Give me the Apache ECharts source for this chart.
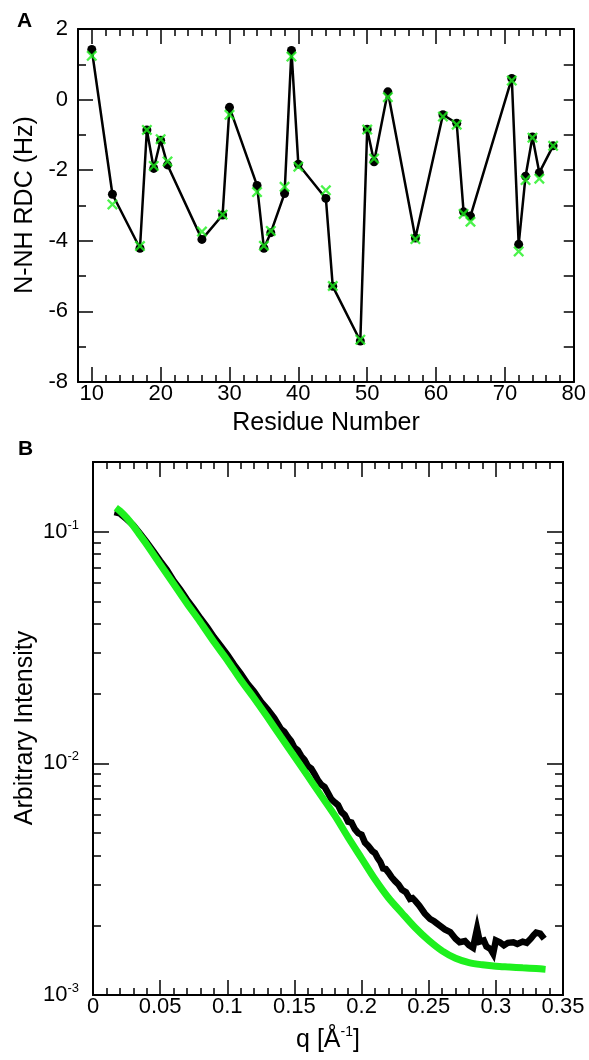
<!DOCTYPE html>
<html><head><meta charset="utf-8">
<script src="https://cdn.jsdelivr.net/npm/echarts@6/dist/echarts.min.js"></script>
<style>html,body{margin:0;padding:0;background:#fff}#c{width:589px;height:1060px}</style>
</head><body><div id="c"></div>
<script>
// ---------- Panel A data ----------
const residues = [10,13,17,18,19,20,21,26,29,30,34,35,36,38,39,40,44,45,49,50,51,53,57,61,63,64,65,71,72,73,74,75,77];
const rdcExp  = [1.42,-2.68,-4.21,-0.86,-1.95,-1.15,-1.85,-3.96,-3.27,-0.22,-2.43,-4.21,-3.77,-2.66,1.39,-1.83,-2.80,-5.29,-6.84,-0.84,-1.76,0.22,-3.92,-0.43,-0.67,-3.18,-3.30,0.60,-4.10,-2.17,-1.06,-2.07,-1.31];
const rdcCalc = [1.24,-2.97,-4.15,-0.86,-1.88,-1.12,-1.75,-3.74,-3.26,-0.43,-2.62,-4.14,-3.72,-2.47,1.22,-1.90,-2.57,-5.28,-6.80,-0.85,-1.67,0.07,-3.95,-0.48,-0.71,-3.24,-3.46,0.54,-4.30,-2.28,-1.08,-2.24,-1.31];

// ---------- Panel B data ----------
const qExp = [0.016,0.020,0.025,0.030,0.035,0.040,0.045,0.050,0.055,0.060,0.065,0.070,0.075,0.080,0.085,0.090,0.095,0.100,0.105,0.110,0.115,0.120,0.125,0.130,0.135,0.140,0.1425,0.145,0.1475,0.150,0.1525,0.155,0.1575,0.160,0.1625,0.165,0.1675,0.170,0.1725,0.175,0.1775,0.180,0.1825,0.185,0.1875,0.190,0.1925,0.195,0.1975,0.200,0.2025,0.205,0.208,0.210,0.212,0.214,0.216,0.218,0.220,0.2225,0.225,0.2275,0.230,0.233,0.236,0.238,0.240,0.243,0.247,0.251,0.254,0.258,0.262,0.266,0.270,0.273,0.277,0.280,0.283,0.286,0.288,0.291,0.293,0.296,0.298,0.300,0.303,0.306,0.309,0.313,0.316,0.320,0.323,0.326,0.328,0.330,0.333,0.336];
const iExp = [0.1216,0.120,0.1135,0.1067,0.0982,0.0902,0.0822,0.0748,0.0684,0.0614,0.0562,0.0509,0.0466,0.0423,0.0387,0.0351,0.0322,0.0295,0.0267,0.0244,0.0221,0.0204,0.0185,0.0171,0.0157,0.01406,0.01370,0.01303,0.01250,0.01169,0.01140,0.01076,0.01035,0.00973,0.00950,0.00899,0.00845,0.00809,0.00790,0.00745,0.00700,0.00679,0.00660,0.00617,0.00598,0.00560,0.00555,0.00520,0.00500,0.00492,0.00455,0.00440,0.00418,0.00410,0.00390,0.00375,0.00352,0.00350,0.00338,0.00322,0.00310,0.00300,0.00285,0.00278,0.00260,0.00262,0.00255,0.00243,0.00225,0.00213,0.00208,0.00200,0.00192,0.00187,0.00175,0.00169,0.00171,0.00164,0.00160,0.00193,0.00170,0.00172,0.00162,0.00158,0.00151,0.00172,0.00169,0.00164,0.00168,0.00169,0.00166,0.00170,0.00168,0.00175,0.00181,0.00186,0.00184,0.00175];
const qCalc = [0.017,0.020,0.025,0.030,0.035,0.040,0.050,0.060,0.070,0.080,0.090,0.100,0.110,0.120,0.130,0.140,0.150,0.160,0.170,0.180,0.190,0.200,0.210,0.220,0.230,0.240,0.250,0.260,0.270,0.280,0.290,0.300,0.310,0.320,0.330,0.337];
const iCalc = [0.127,0.123,0.115,0.106,0.0966,0.0881,0.0724,0.0596,0.0490,0.0407,0.0335,0.0279,0.0229,0.0191,0.0158,0.0130,0.0107,0.00881,0.00724,0.00596,0.00479,0.00389,0.00316,0.00263,0.00226,0.00195,0.00172,0.00155,0.00144,0.00138,0.00135,0.00133,0.00132,0.00131,0.00130,0.00129];
const yMinorTicksB = [0.002,0.003,0.004,0.005,0.006,0.007,0.008,0.009,0.02,0.03,0.04,0.05,0.06,0.07,0.08,0.09,0.2];

const FONT = '"Liberation Sans", Arial, sans-serif';
const GREEN = '#1ef01e';
const BLACK = '#000';
const yMinB = 0.001, yMaxB = 0.2;

function ls(w) { return {color: BLACK, width: w}; }
function frameAxis(base, o) {
  return Object.assign({
    axisLine: {show: true, onZero: false, lineStyle: ls(2)},
    splitLine: {show: false},
    axisTick: {show: true, inside: true, length: o.major, lineStyle: ls(1.5)},
    minorTick: o.minorSplit ? {show: true, splitNumber: o.minorSplit, length: o.minor, lineStyle: ls(1.5)} : {show: false},
    axisLabel: o.label || {show: true, formatter: function () { return ''; }}
  }, base, o.extra || {});
}

const xAxes = [
  frameAxis({gridIndex: 0, type: 'value', position: 'bottom', min: 8, max: 80, splitNumber: 7},
    {major: 15, minor: 7, minorSplit: 5,
     label: {show: true, margin: 1, color: BLACK, fontSize: 22, fontFamily: FONT,
             formatter: function (v) { return Math.abs(v % 10) < 1e-9 ? String(v) : ''; }}}),
  frameAxis({gridIndex: 0, type: 'value', position: 'top', min: 8, max: 80, splitNumber: 7},
    {major: 15, minor: 7, minorSplit: 5}),
  frameAxis({gridIndex: 1, type: 'value', position: 'bottom', min: 0, max: 0.35, interval: 0.05},
    {major: 15, minor: 7, minorSplit: 5,
     label: {show: true, margin: 1, color: BLACK, fontSize: 22, fontFamily: FONT}}),
  frameAxis({gridIndex: 1, type: 'value', position: 'top', min: 0, max: 0.35, interval: 0.05},
    {major: 15, minor: 7, minorSplit: 5})
];

const logMax = Math.log10(yMaxB), logMin = Math.log10(yMinB);
const logLabel = {show: true, margin: 14, color: BLACK, fontFamily: FONT,
  formatter: function (v) {
    const l = Math.log10(v), e = Math.round(l);
    if (Math.abs(l - e) > 1e-6) return '';
    return '{b|10}{s|' + e + '}';
  },
  rich: {b: {fontSize: 22, fontFamily: FONT, color: BLACK, lineHeight: 26},
         s: {fontSize: 13, fontFamily: FONT, color: BLACK, verticalAlign: 'top', lineHeight: 13}}};

const yAxes = [
  frameAxis({gridIndex: 0, type: 'value', position: 'left', min: -8, max: 2, interval: 2},
    {major: 15, minor: 8, minorSplit: 2,
     label: {show: true, margin: 10, color: BLACK, fontSize: 22, fontFamily: FONT}}),
  frameAxis({gridIndex: 0, type: 'value', position: 'right', min: -8, max: 2, interval: 1},
    {major: 10}),
  frameAxis({gridIndex: 1, type: 'log', logBase: 10, position: 'left', min: yMinB, max: yMaxB},
    {major: 16, label: logLabel}),
  frameAxis({gridIndex: 1, type: 'value', position: 'left', min: logMin, max: logMax},
    {major: 8, extra: {axisTick: {show: true, inside: true, length: 8, lineStyle: ls(1.5), customValues: yMinorTicksB.map(Math.log10)}}}),
  frameAxis({gridIndex: 1, type: 'log', logBase: 10, position: 'right', min: yMinB, max: yMaxB},
    {major: 16}),
  frameAxis({gridIndex: 1, type: 'value', position: 'right', min: logMin, max: logMax},
    {major: 8, extra: {axisTick: {show: true, inside: true, length: 8, lineStyle: ls(1.5), customValues: yMinorTicksB.map(Math.log10)}}})
];

const X_SYMBOL = 'path://M0,1.5L1.5,0L5,3.5L8.5,0L10,1.5L6.5,5L10,8.5L8.5,10L5,6.5L1.5,10L0,8.5L3.5,5Z';
const titleStyle = {fontSize: 25, fontFamily: FONT, fill: BLACK, align: 'center', verticalAlign: 'middle'};

const option = {
  animation: false,
  grid: [
    {left: 78, right: 14, top: 29, height: 353},
    {left: 93, right: 26, top: 462, height: 533}
  ],
  xAxis: xAxes,
  yAxis: yAxes,
  graphic: [
    {type: 'text', x: 17, y: 11, style: {text: 'A', fontSize: 21, fontWeight: 'bold', fontFamily: FONT, fill: BLACK}},
    {type: 'text', x: 18, y: 439, style: {text: 'B', fontSize: 21, fontWeight: 'bold', fontFamily: FONT, fill: BLACK}},
    {type: 'text', x: 326, y: 423, style: Object.assign({text: 'Residue Number'}, titleStyle)},
    {type: 'text', x: 25, y: 205, rotation: Math.PI / 2, style: Object.assign({text: 'N-NH RDC (Hz)'}, titleStyle)},
    {type: 'text', x: 25, y: 728, rotation: Math.PI / 2, style: Object.assign({text: 'Arbitrary Intensity'}, titleStyle)},
    {type: 'text', x: 328, y: 1040, style: Object.assign({text: '{n|q [Å}{s|-1}{n|]}',
      rich: {n: {fontSize: 25, fontFamily: FONT, fill: BLACK, lineHeight: 30},
             s: {fontSize: 14, fontFamily: FONT, fill: BLACK, verticalAlign: 'top', lineHeight: 14}}}, titleStyle)}
  ],
  series: [
    {type: 'line', name: 'RDC exp', xAxisIndex: 0, yAxisIndex: 0,
     data: residues.map((r, i) => [r, rdcExp[i]]),
     symbol: 'circle', symbolSize: 9, showSymbol: true,
     lineStyle: {color: BLACK, width: 2.5}, itemStyle: {color: BLACK}, z: 2},
    {type: 'scatter', name: 'RDC calc', xAxisIndex: 0, yAxisIndex: 0,
     data: residues.map((r, i) => [r, rdcCalc[i]]),
     symbol: X_SYMBOL, symbolSize: 11, itemStyle: {color: GREEN}, z: 3},
    {type: 'line', name: 'SAXS exp', xAxisIndex: 2, yAxisIndex: 2,
     data: qExp.map((q, i) => [q, iExp[i]]),
     showSymbol: false, symbol: 'none', lineStyle: {color: BLACK, width: 6.5, join: 'miter'}, z: 2},
    {type: 'line', name: 'SAXS calc', xAxisIndex: 2, yAxisIndex: 2,
     data: qCalc.map((q, i) => [q, iCalc[i]]),
     showSymbol: false, symbol: 'none', smooth: 0.3, lineStyle: {color: GREEN, width: 7}, z: 3}
  ]
};
const chart = echarts.init(document.getElementById('c'));
chart.setOption(option);
</script>
</body></html>
